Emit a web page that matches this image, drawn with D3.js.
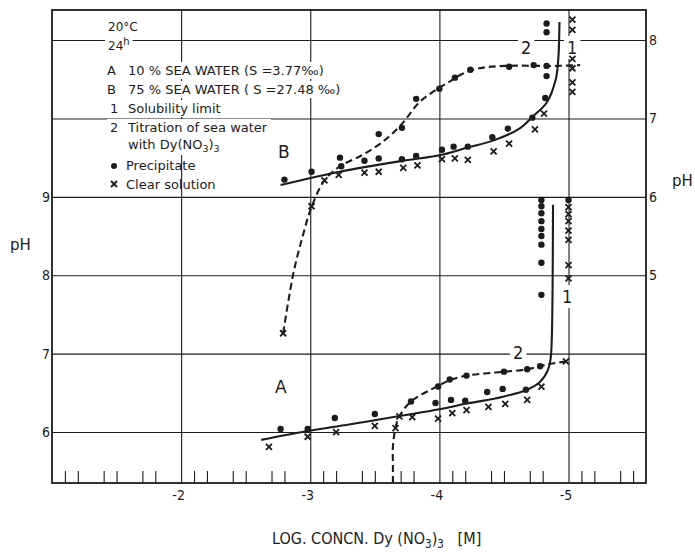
<!DOCTYPE html>
<html>
<head>
<meta charset="utf-8">
<script src="https://cdn.jsdelivr.net/npm/d3@7"></script>
<style>
  body { margin: 0; background: #fff; }
  svg { display: block; font-family: "DejaVu Sans", sans-serif; }
  .narrow { font-family: "Liberation Sans Narrow", "DejaVu Sans Condensed", "Liberation Sans", sans-serif; }
</style>
</head>
<body>
<svg></svg>
<script>
// log concentration / pH
// A = 10 % sea water (left pH axis), B = 75 % sea water (right pH axis)
const aPrecipitate = [
  [-2.77, 6.04], [-2.98, 6.04], [-3.19, 6.18], [-3.5, 6.23], [-3.78, 6.39],
  [-3.99, 6.58], [-3.97, 6.37], [-4.08, 6.67], [-4.09, 6.41], [-4.21, 6.72],
  [-4.2, 6.4], [-4.37, 6.51], [-4.49, 6.55], [-4.5, 6.77], [-4.67, 6.54],
  [-4.68, 6.8], [-4.78, 6.84],
  [-4.79, 8.96], [-4.79, 8.88], [-4.79, 8.79], [-4.79, 8.69], [-4.79, 8.59],
  [-4.79, 8.5], [-4.79, 8.39], [-4.79, 8.16], [-4.79, 7.75], [-5.0, 8.96]
];
const aClear = [
  [-2.68, 5.81], [-2.98, 5.94], [-3.2, 6.0], [-3.5, 6.08], [-3.66, 6.05],
  [-3.69, 6.2], [-3.79, 6.19], [-3.99, 6.17], [-4.1, 6.24], [-4.21, 6.28],
  [-4.38, 6.32], [-4.51, 6.36], [-4.68, 6.41], [-4.79, 6.58], [-4.98, 6.9],
  [-5.0, 8.87], [-5.0, 8.78], [-5.0, 8.69], [-5.0, 8.57], [-5.0, 8.45],
  [-5.0, 8.13], [-5.0, 7.96]
];
const aSolubility = [
  [-2.62, 5.9], [-2.97, 6.01], [-3.31, 6.1], [-4.0, 6.29], [-4.2, 6.36],
  [-4.44, 6.43], [-4.68, 6.54], [-4.78, 6.64], [-4.84, 6.79], [-4.86, 6.92],
  [-4.87, 7.17], [-4.88, 8.9]
];
const aTitration = [
  [-3.64, 5.35], [-3.64, 5.58], [-3.64, 5.81], [-3.66, 6.05], [-3.69, 6.2],
  [-3.78, 6.39], [-3.98, 6.58], [-4.08, 6.66], [-4.21, 6.72], [-4.37, 6.75],
  [-4.51, 6.77], [-4.68, 6.8], [-4.78, 6.84], [-4.86, 6.87], [-4.98, 6.9]
];

const bPrecipitate = [
  [-2.8, 6.22], [-3.01, 6.32], [-3.23, 6.5], [-3.24, 6.39], [-3.42, 6.46],
  [-3.53, 6.49], [-3.53, 6.8], [-3.71, 6.88], [-3.71, 6.48], [-3.82, 6.52],
  [-3.82, 7.25], [-4.0, 7.38], [-4.02, 6.6], [-4.11, 6.64], [-4.12, 7.52],
  [-4.22, 6.64], [-4.24, 7.62], [-4.41, 6.76], [-4.53, 6.87], [-4.54, 7.66],
  [-4.72, 7.01], [-4.73, 7.68], [-4.83, 7.67], [-4.83, 7.54], [-4.82, 7.26],
  [-4.83, 8.21], [-4.83, 8.1]
];
const bClear = [
  [-2.79, 4.26], [-3.01, 5.88], [-3.11, 6.21], [-3.22, 6.28], [-3.42, 6.31],
  [-3.53, 6.32], [-3.72, 6.37], [-3.83, 6.4], [-4.02, 6.48], [-4.12, 6.49],
  [-4.22, 6.47], [-4.42, 6.58], [-4.54, 6.68], [-4.74, 6.86], [-4.81, 7.06],
  [-5.03, 8.26], [-5.03, 8.13], [-5.03, 7.76], [-5.03, 7.64], [-5.03, 7.46],
  [-5.03, 7.34]
];
const bSolubility = [
  [-2.77, 6.15], [-3.23, 6.32], [-3.72, 6.46], [-4.0, 6.53], [-4.22, 6.63],
  [-4.42, 6.72], [-4.62, 6.87], [-4.72, 7.02], [-4.83, 7.2], [-4.9, 7.49],
  [-4.92, 7.74], [-4.93, 8.23]
];
const bTitration = [
  [-2.79, 4.26], [-2.87, 5.03], [-2.94, 5.49], [-3.01, 5.87], [-3.11, 6.21],
  [-3.23, 6.39], [-3.4, 6.53], [-3.56, 6.7], [-3.71, 6.93], [-3.84, 7.2],
  [-3.96, 7.35], [-4.07, 7.46], [-4.18, 7.57], [-4.31, 7.64], [-4.51, 7.67],
  [-4.91, 7.67], [-5.09, 7.68]
];

const xMajor = [-2, -3, -4, -5];
const xDecades = [-1, -2, -3, -4, -5];
const xMinorSteps = [0.1, 0.2, 0.4, 0.5, 0.7, 0.8];
const phGrid = [6, 7, 8, 9, 10, 11];
const leftTicks = [6, 7, 8, 9];
const rightTicks = [5, 6, 7, 8];

let width = 695;
let height = 553;
let mLeft = 52, mRight = 646, mTop = 10, mBottom = 483;
let ink = "#1c1c1c";

let svg = d3.select("svg").attr("width", width).attr("height", height);

let x = d3.scaleLinear().domain([-1, -5.6]).range([mLeft, mRight]);
let yLeft = d3.scaleLinear().domain([5.35, 11.383]).range([mBottom, mTop]);
let yRight = d3.scaleLinear().domain([2.35, 8.383]).range([mBottom, mTop]);

let minorTicks = [];
xDecades.forEach((d) => xMinorSteps.forEach((s) => {
  let v = +(d - s).toFixed(2);
  if (v > -5.6) minorTicks.push(v);
}));

// grid
let grid = svg.append("g");
grid.append("g")
  .attr("transform", `translate(0, ${mBottom})`)
  .call(d3.axisBottom(x).tickValues(xMajor).tickSize(-(mBottom - mTop)).tickFormat(""));
grid.append("g")
  .attr("transform", `translate(${mLeft}, 0)`)
  .call(d3.axisLeft(yLeft).tickValues(phGrid).tickSize(-(mRight - mLeft)).tickFormat(""));
grid.append("g")
  .attr("transform", `translate(0, ${mBottom})`)
  .call(d3.axisBottom(x).tickValues(minorTicks).tickSize(-12).tickFormat(""));
grid.selectAll(".domain").remove();
grid.selectAll("line").attr("stroke", ink).attr("stroke-width", 1.1);

let knock = svg.append("g");

svg.append("rect")
  .attr("x", mLeft).attr("y", mTop)
  .attr("width", mRight - mLeft).attr("height", mBottom - mTop)
  .attr("fill", "none").attr("stroke", ink).attr("stroke-width", 1.8);

// tick labels
let axisFont = (g) => {
  g.select(".domain").remove();
  g.selectAll("text").attr("fill", ink).attr("font-size", 14).attr("class", "narrow");
};
svg.append("g")
  .attr("transform", `translate(-3, ${mBottom})`)
  .call(d3.axisBottom(x).tickValues(xMajor).tickSize(0).tickPadding(7)
    .tickFormat((d) => "-" + Math.abs(d)))
  .call(axisFont);
svg.append("g")
  .attr("transform", `translate(${mLeft - 1}, 0)`)
  .call(d3.axisLeft(yLeft).tickValues(leftTicks).tickSize(0).tickPadding(1).tickFormat(d3.format("d")))
  .call(axisFont);
svg.append("g")
  .attr("transform", `translate(${mRight}, 0)`)
  .call(d3.axisRight(yRight).tickValues(rightTicks).tickSize(0).tickPadding(3).tickFormat(d3.format("d")))
  .call(axisFont);

// curves
let lineA = d3.line().x((d) => x(d[0])).y((d) => yLeft(d[1])).curve(d3.curveCatmullRom.alpha(0.5));
let lineB = d3.line().x((d) => x(d[0])).y((d) => yRight(d[1])).curve(d3.curveCatmullRom.alpha(0.5));

let drawCurve = (data, gen, dashed) => {
  svg.append("path")
    .datum(data)
    .attr("d", gen)
    .attr("fill", "none")
    .attr("stroke", ink)
    .attr("stroke-width", 2.1)
    .attr("stroke-dasharray", dashed ? "7,4" : null);
};
drawCurve(aSolubility, lineA, false);
drawCurve(aTitration, lineA, true);
drawCurve(bSolubility, lineB, false);
drawCurve(bTitration, lineB, true);

// markers
let crossPath = "M-3,-3L3,3M-3,3L3,-3";
let drawDots = (data, y) => {
  svg.append("g").selectAll("circle").data(data).enter().append("circle")
    .attr("cx", (d) => x(d[0])).attr("cy", (d) => y(d[1]))
    .attr("r", 3.2).attr("fill", ink);
};
let drawCrosses = (data, y) => {
  svg.append("g").selectAll("path").data(data).enter().append("path")
    .attr("d", crossPath)
    .attr("transform", (d) => `translate(${x(d[0])}, ${y(d[1])})`)
    .attr("stroke", ink).attr("stroke-width", 1.8).attr("fill", "none");
};
drawDots(aPrecipitate, yLeft);
drawCrosses(aClear, yLeft);
drawDots(bPrecipitate, yRight);
drawCrosses(bClear, yRight);

// labels
let labels = svg.append("g").attr("fill", ink);
let addText = (tx, ty, size, str, knocked) => {
  let t = labels.append("text").attr("x", tx).attr("y", ty).attr("font-size", size).text(str);
  if (knocked) t.classed("knock", true);
  return t;
};

addText(108, 31, 12, "20°C", true);
let h24 = addText(108, 50, 12, "24", true);
h24.append("tspan").attr("dy", -5).attr("font-size", 10).text("h");

let legendRow = (key, kx, ty, str) => {
  let t = labels.append("text").attr("y", ty).attr("font-size", 13).classed("knock", true);
  t.append("tspan").attr("x", kx).text(key);
  t.append("tspan").attr("x", 128).text(str);
  return t;
};
legendRow("A", 107, 75, "10 % SEA WATER (S =3.77‰)");
legendRow("B", 107, 94, "75 % SEA WATER ( S =27.48 ‰)");
legendRow("1", 110, 113, "Solubility limit");
legendRow("2", 110, 132, "Titration of sea water");
let withDy = addText(128, 149, 13, "with Dy(NO", true);
withDy.append("tspan").attr("dy", 3).attr("font-size", 9.5).text("3");
withDy.append("tspan").attr("dy", -3).text(")");
withDy.append("tspan").attr("dy", 3).attr("font-size", 9.5).text("3");

labels.append("circle").attr("cx", 114).attr("cy", 166).attr("r", 3);
addText(126, 170, 13, "Precipitate", false);
labels.append("path").attr("d", crossPath).attr("transform", "translate(114, 184)")
  .attr("stroke", ink).attr("stroke-width", 1.8);
addText(126, 189, 13, "Clear solution", false);

addText(278, 158, 17, "B", false);
addText(275, 393, 17, "A", false);
addText(521, 54, 18, "2", true).attr("class", "knock narrow");
addText(567, 54, 18, "1", true).attr("class", "knock narrow");
addText(513, 359, 18, "2", true).attr("class", "knock narrow");
addText(562, 303, 18, "1", true).attr("class", "knock narrow");

addText(10, 250, 15, "pH", false);
addText(672, 186, 15, "pH", false);

let title = addText(272, 544, 16, "LOG. CONCN. Dy (NO", false).attr("class", "narrow");
title.append("tspan").attr("dy", 4).attr("font-size", 11.5).text("3");
title.append("tspan").attr("dy", -4).text(")");
title.append("tspan").attr("dy", 4).attr("font-size", 11.5).text("3");
title.append("tspan").attr("dy", -4).text("\u00a0\u00a0\u00a0[M]");

// white boxes so grid lines break around the labels
labels.selectAll("text.knock").each(function () {
  let b = this.getBBox();
  knock.append("rect")
    .attr("x", b.x - 3).attr("y", b.y - 1)
    .attr("width", b.width + 6).attr("height", b.height + 2)
    .attr("fill", "#fff");
});
</script>
</body>
</html>
